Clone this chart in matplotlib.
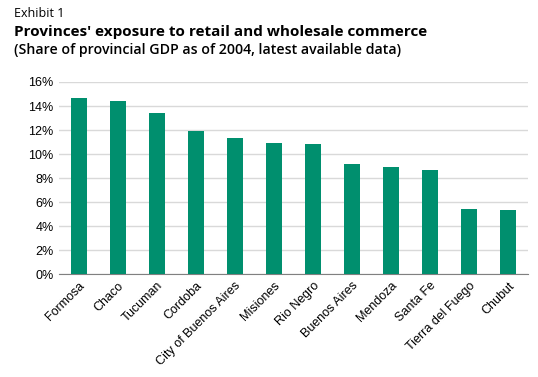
import matplotlib.pyplot as plt
from matplotlib.ticker import PercentFormatter

provinces = ['Formosa', 'Chaco', 'Tucuman', 'Cordoba', 'City of Buenos Aires', 'Misiones',
             'Rio Negro', 'Buenos Aires', 'Mendoza', 'Santa Fe', 'Tierra del Fuego', 'Chubut']
share = [14.7, 14.4, 13.4, 11.9, 11.3, 10.9, 10.85, 9.2, 8.9, 8.7, 5.4, 5.35]

fig = plt.figure(figsize=(5.38, 3.77), dpi=100)
ax = fig.add_axes([0.1097, 0.273, 0.8713, 0.5095])

ax.bar(range(len(provinces)), share, width=0.41, color='#008f6e', zorder=3)
ax.set_xlim(-0.5, len(provinces) - 0.5)
ax.set_ylim(0, 16)
ax.set_yticks(range(0, 17, 2))
ax.yaxis.set_major_formatter(PercentFormatter(decimals=0))
ax.set_xticks(range(len(provinces)))
ax.set_xticklabels(provinces, rotation=45, ha='right', rotation_mode='anchor')
ax.grid(axis='y', color='#d9d9d9', linewidth=1, zorder=0)
for s in ['top', 'right', 'left']:
    ax.spines[s].set_visible(False)
ax.spines['bottom'].set_color('#808080')
ax.tick_params(axis='both', length=0, labelsize=9, pad=4)
for lbl in ax.get_xticklabels() + ax.get_yticklabels():
    lbl.set_family('Liberation Sans')

fig.text(0.026, 0.982, 'Exhibit 1', fontsize=9, family='Open Sans', va='top')
fig.text(0.026, 0.933, "Provinces' exposure to retail and wholesale commerce", fontsize=11,
         family='Open Sans', fontweight='bold', va='top')
fig.text(0.026, 0.887, '(Share of provincial GDP as of 2004, latest available data)', fontsize=10.2,
         family='Open Sans', fontweight='semibold', va='top')

fig.savefig('out.png', dpi=100)
